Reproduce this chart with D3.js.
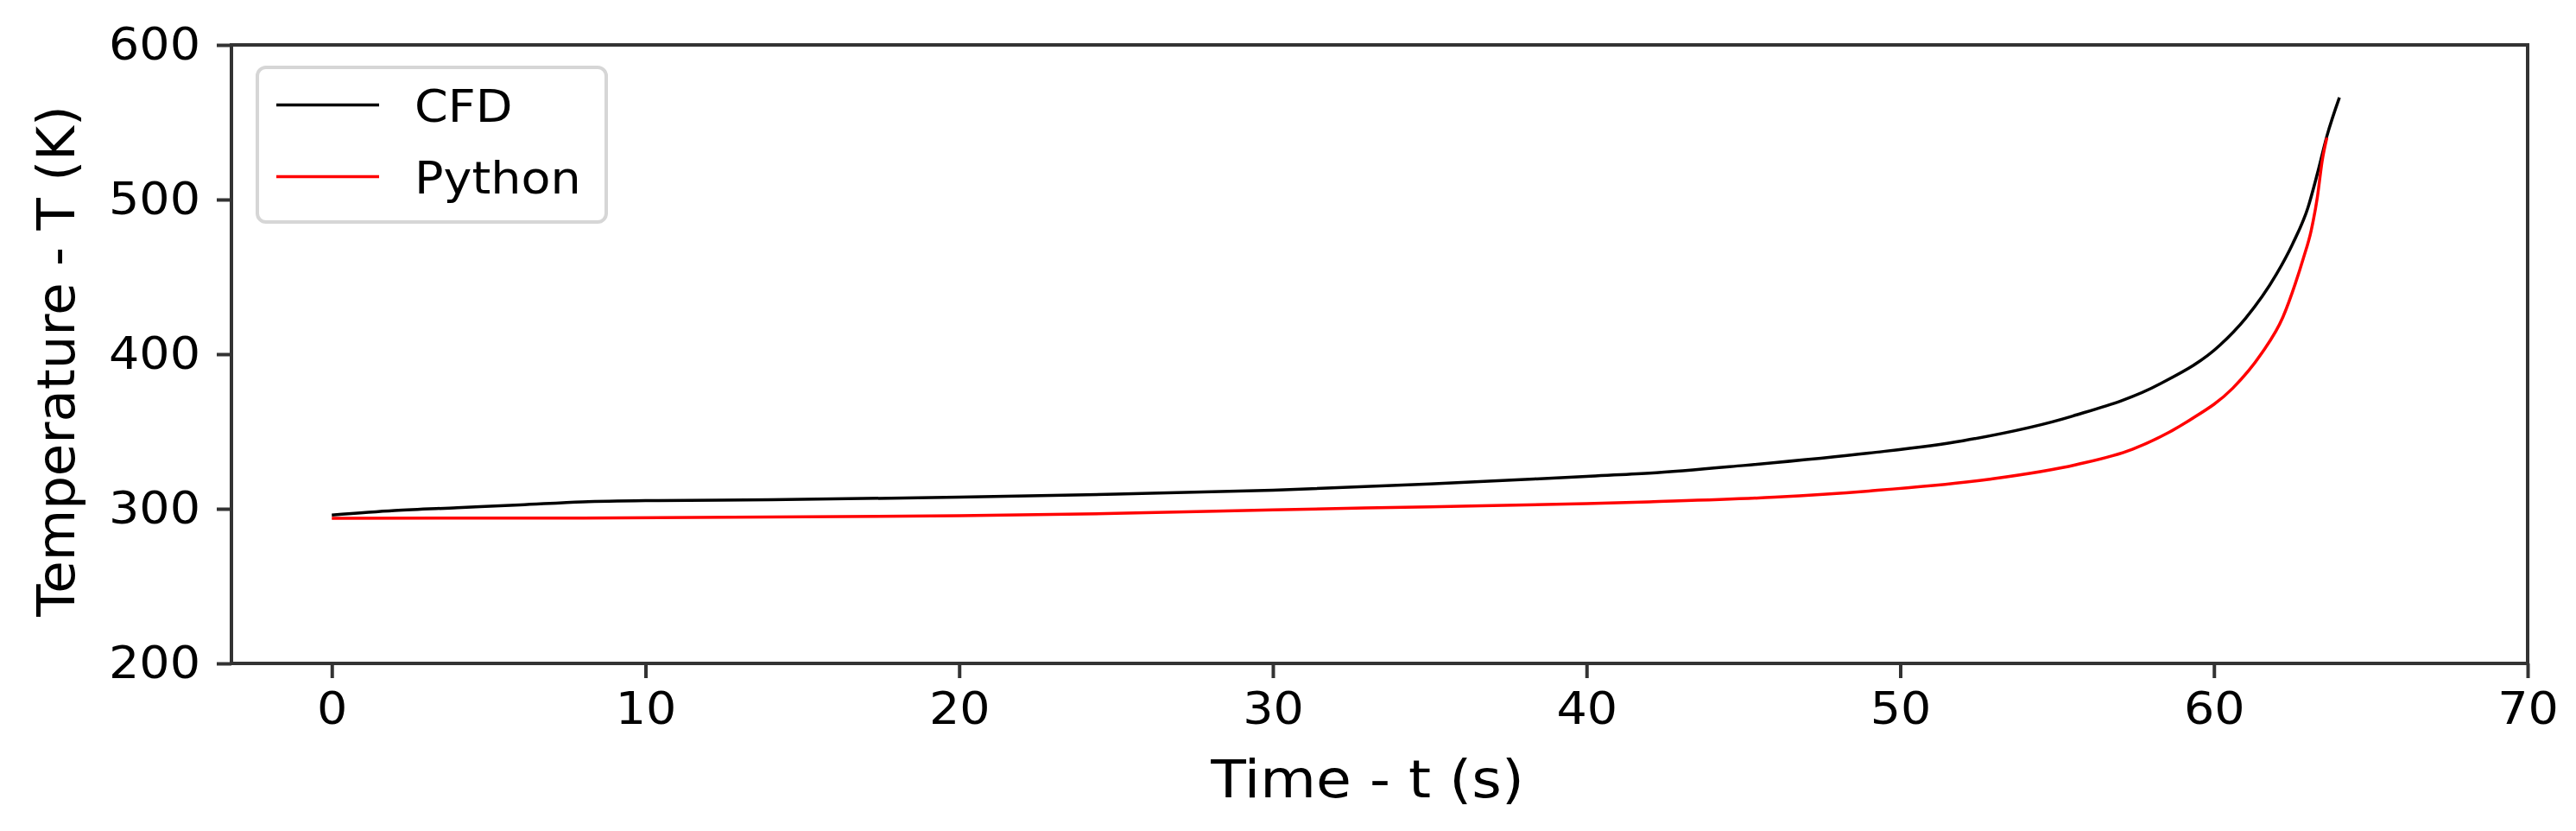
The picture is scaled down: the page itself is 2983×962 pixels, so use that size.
<!DOCTYPE html>
<html>
<head>
<meta charset="utf-8">
<script src="https://cdn.jsdelivr.net/npm/d3@7"></script>
<style>
html, body { margin: 0; padding: 0; background: #fff; }
svg { display: block; font-family: "DejaVu Sans", sans-serif; }
</style>
</head>
<body>
<svg id="chart" width="2983" height="962"></svg>
<script>
// Data
const cfdTime = [0, 2, 4, 6, 8, 10, 14, 20, 25, 30, 35, 40, 42, 45, 49, 52, 55.5, 58.3, 60.2, 61, 62, 62.5, 63, 63.3, 63.6, 64];
const cfdTemp = [296, 298.9, 300.7, 302.5, 304.5, 305.3, 305.8, 307.5, 309.5, 312, 316, 321, 323, 328, 336, 344, 360, 381, 406, 423, 452, 471, 495, 517, 541, 566];
const pyTime = [0, 8, 20, 25, 30, 35, 40, 42, 46, 49, 52.8, 55.6, 57.4, 59.2, 60.6, 61.5, 62.2, 62.6, 62.85, 63.1, 63.3, 63.45, 63.6];
const pyTemp = [293.9, 294, 295.5, 297, 299.3, 301.3, 303.3, 304.5, 307.5, 311.5, 319, 328.5, 338.5, 357, 378, 400, 424, 446, 462, 480, 502, 525, 540];
const xTicks = [0, 10, 20, 30, 40, 50, 60, 70];
const yTicks = [200, 300, 400, 500, 600];
const seriesNames = ["CFD", "Python"];
const seriesColors = ["#000000", "#ff0000"];

const svg = d3.select("#chart");
const plot = { left: 268, right: 2927, top: 52, bottom: 768 };

const x = d3.scaleLinear().domain([-3.2, 70]).range([plot.left, plot.right]);
const y = d3.scaleLinear().domain([200, 600]).range([plot.bottom, plot.top]);

const tickFont = 51, labelFont = 61, stretch = 1.09;

// Axes
const xAxis = svg.append("g")
  .attr("transform", `translate(0,${plot.bottom})`)
  .call(d3.axisBottom(x).tickValues(xTicks).tickSize(17).tickPadding(17).tickFormat(d3.format("d")));
const yAxis = svg.append("g")
  .attr("transform", `translate(${plot.left},0)`)
  .call(d3.axisLeft(y).tickValues(yTicks).tickSize(17).tickPadding(0).tickFormat(d3.format("d")));

[xAxis, yAxis].forEach(g => {
  g.select(".domain").remove();
  g.selectAll(".tick line").attr("stroke", "#333").attr("stroke-width", 4);
  g.selectAll(".tick text").attr("font-size", tickFont).attr("fill", "#000")
    .attr("font-family", "DejaVu Sans");
});
xAxis.selectAll(".tick text").attr("transform", `scale(${stretch},1)`);
yAxis.selectAll(".tick text").attr("x", null)
  .attr("transform", `translate(-36,0) scale(${stretch},1)`);

// Lines
const line = d3.line().curve(d3.curveMonotoneX).x(d => x(d[0])).y(d => y(d[1]));
const cfd = cfdTime.map((t, i) => [t, cfdTemp[i]]);
const py = pyTime.map((t, i) => [t, pyTemp[i]]);

svg.append("clipPath").attr("id", "clip").append("rect")
  .attr("x", plot.left).attr("y", plot.top)
  .attr("width", plot.right - plot.left).attr("height", plot.bottom - plot.top);

const lines = svg.append("g").attr("clip-path", "url(#clip)");
lines.append("path").datum(cfd).attr("d", line)
  .attr("fill", "none").attr("stroke", seriesColors[0]).attr("stroke-width", 3.5);
lines.append("path").datum(py).attr("d", line)
  .attr("fill", "none").attr("stroke", seriesColors[1]).attr("stroke-width", 3.5);

// Frame (spines)
svg.append("rect")
  .attr("x", plot.left).attr("y", plot.top)
  .attr("width", plot.right - plot.left).attr("height", plot.bottom - plot.top)
  .attr("fill", "none").attr("stroke", "#333").attr("stroke-width", 4);

// Axis labels
svg.append("text")
  .attr("transform", `translate(${(plot.left + plot.right) / 2 - 14},923) scale(${stretch},1)`)
  .attr("text-anchor", "middle").attr("font-size", labelFont).attr("fill", "#000")
  .text("Time - t (s)");
svg.append("text")
  .attr("transform", `translate(86,${(plot.top + plot.bottom) / 2 + 8}) rotate(-90)`)
  .attr("text-anchor", "middle").attr("font-size", labelFont).attr("fill", "#000")
  .text("Temperature - T (K)");

// Legend
const legend = svg.append("g");
legend.append("rect")
  .attr("x", 298).attr("y", 78).attr("width", 404).attr("height", 179)
  .attr("rx", 10).attr("ry", 10)
  .attr("fill", "#fff").attr("fill-opacity", 0.8)
  .attr("stroke", "#d6d6d6").attr("stroke-width", 4);
const legY = [121.5, 204.5];
seriesNames.forEach((name, i) => {
  legend.append("line")
    .attr("x1", 320).attr("x2", 439).attr("y1", legY[i]).attr("y2", legY[i])
    .attr("stroke", seriesColors[i]).attr("stroke-width", 3.5);
  legend.append("text")
    .attr("transform", `translate(480,${legY[i] + 19}) scale(${stretch},1)`)
    .attr("font-size", tickFont).attr("fill", "#000")
    .text(name);
});
</script>
</body>
</html>
